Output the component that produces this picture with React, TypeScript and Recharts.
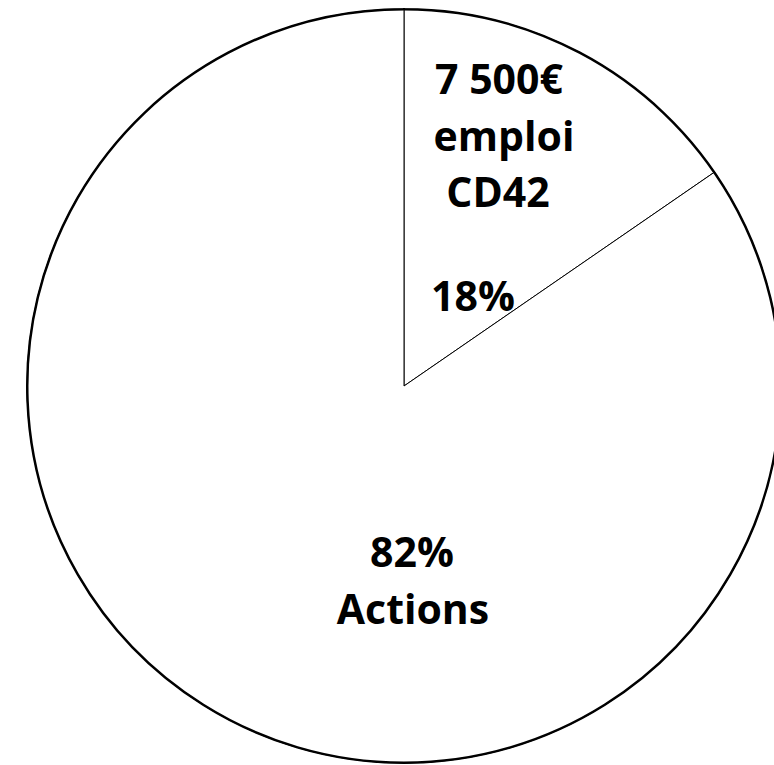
import { PieChart, Pie, Cell } from 'recharts'

// angular shares as drawn in the picture, with the printed labels
const categories = ['emploi CD42', 'Actions']
const shares = [15.4, 84.6]
const percentLabels = ['18%', '82%']
const amountLabels = ['7 500€', '']

const data = categories.map((name, i) => ({ name, value: shares[i] }))
const ring = [{ name: 'outline', value: 1 }]

const font = { fontFamily: '"Open Sans", sans-serif', fontWeight: 700, fontSize: 41, fill: '#000' }

// label line positions, relative to the pie centre
function renderLabel(props: any) {
  const { cx, cy, index } = props
  if (index === 0) {
    return (
      <g>
        <text x={cx + 95} y={cy - 292} textAnchor="middle" style={font}>{amountLabels[0]}</text>
        <text x={cx + 100} y={cy - 235} textAnchor="middle" style={font}>emploi</text>
        <text x={cx + 94} y={cy - 179} textAnchor="middle" style={font}>CD42</text>
        <text x={cx + 69} y={cy - 75} textAnchor="middle" style={font}>{percentLabels[0]}</text>
      </g>
    )
  }
  return (
    <g>
      <text x={cx + 8} y={cy + 181} textAnchor="middle" style={font}>{percentLabels[1]}</text>
      <text x={cx + 9} y={cy + 238} textAnchor="middle" style={font}>{categories[1]}</text>
    </g>
  )
}

export default function App() {
  return (
    <div style={{ position: 'absolute', left: 0, top: 0, width: 774, height: 765, background: '#fff' }}>
      <PieChart width={774} height={765} margin={{ top: 0, right: 0, bottom: 0, left: 0 }}>
        <Pie
          data={data}
          dataKey="value"
          cx={404}
          cy={386}
          outerRadius={377}
          startAngle={90}
          endAngle={-270}
          stroke="#000"
          strokeWidth={1}
          label={renderLabel}
          labelLine={false}
          isAnimationActive={false}
        >
          {data.map((d) => <Cell key={d.name} fill="#fff" />)}
        </Pie>
        <Pie
          data={ring}
          dataKey="value"
          cx={404}
          cy={386}
          innerRadius={376.5}
          outerRadius={377}
          startAngle={90}
          endAngle={-270}
          fill="none"
          stroke="#000"
          strokeWidth={2}
          isAnimationActive={false}
        />
      </PieChart>
    </div>
  )
}
